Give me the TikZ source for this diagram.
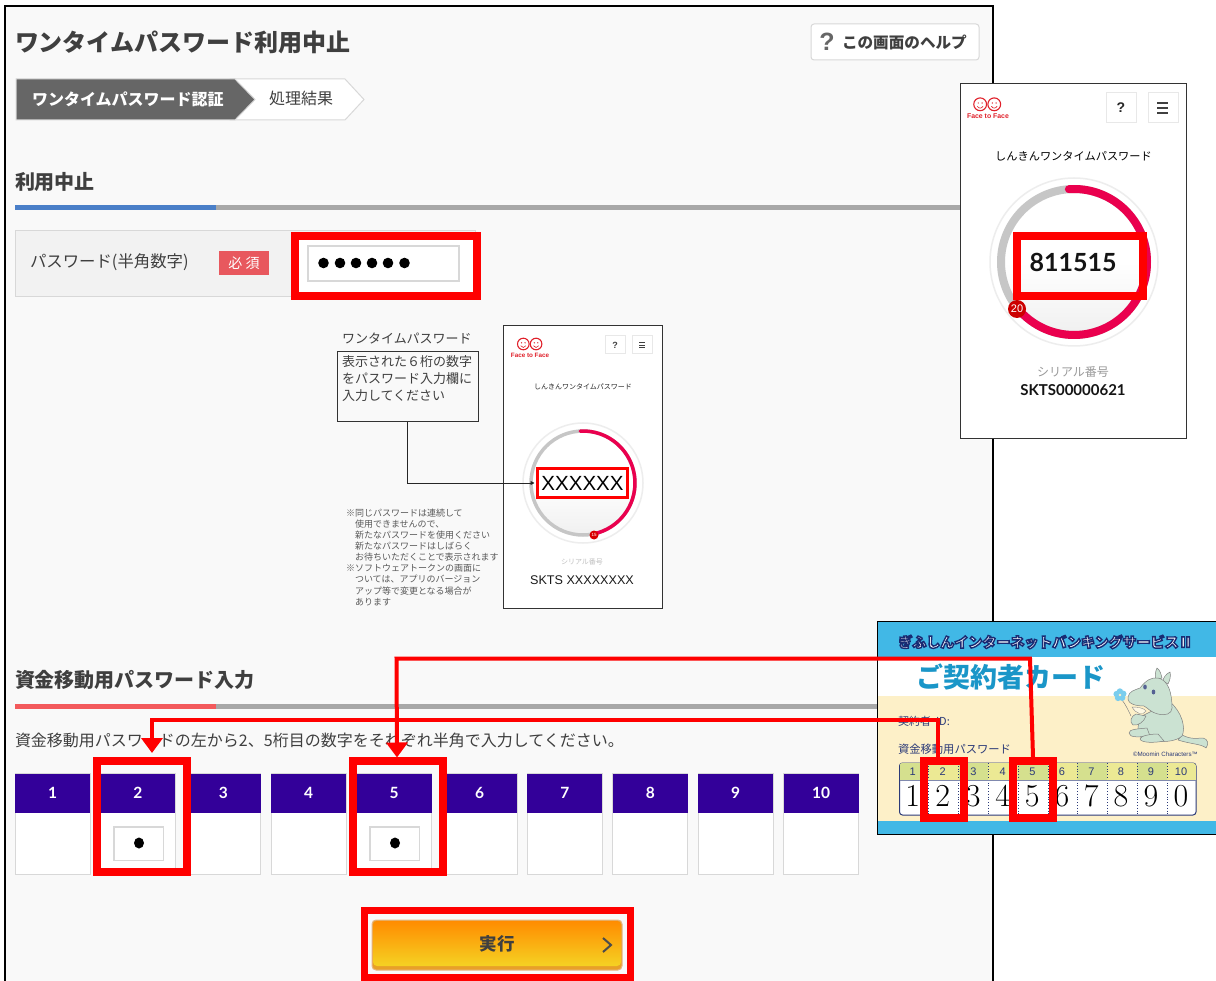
\documentclass[tikz,border=0pt]{standalone}
\usepackage{fontspec}
\usetikzlibrary{arrows.meta,fit,calc}
\newfontfamily\jp{Noto Sans CJK JP}
\newfontfamily\jpblack{Noto Sans CJK JP Black}
\newfontfamily\lib{Liberation Sans}
\newfontfamily\lato{Lato}
\def\fs#1{\fontsize{#1}{#1}\selectfont}
\definecolor{pagebg}{HTML}{F9F9F9}
\definecolor{rd}{HTML}{FF0000}
\definecolor{txt}{HTML}{3F3F3F}
\definecolor{edge}{HTML}{D8D8D8}
\definecolor{barg}{HTML}{A8A8A8}
\definecolor{pink}{HTML}{EA004E}
\definecolor{logored}{HTML}{E0202A}
\definecolor{ringg}{HTML}{C6C6C6}
\definecolor{navy}{HTML}{2B3A78}
\definecolor{cardb}{HTML}{41B8E6}
\definecolor{cream}{HTML}{FDF0C8}
\definecolor{purp}{HTML}{330099}
\definecolor{moom}{HTML}{CBE2D2}
\definecolor{hdra}{HTML}{ECE994}
\definecolor{hdrb}{HTML}{D5E08E}
\tikzset{
  t/.style={inner sep=0pt,outer sep=0pt,text=txt,anchor=west,font=\jp},
  c/.style={t,anchor=center},
  box/.style={inner sep=0pt,outer sep=0pt},
  redbox/.style={box,draw=rd,line width=8pt,line join=miter},
  redline/.style={draw=rd,line width=4pt},
  redarrow/.style={redline,-{Triangle[length=15pt,width=21pt]}},
  inputbox/.style={box,draw=edge,line width=1.6pt,fill=white},
  phonebtn/.style={box,draw=edge!60,line width=1pt,fill=white},
  phoneframe/.style={box,draw=black!80,line width=1pt,fill=white},
  moomin/.style={draw=black!50,line width=0.5pt,fill=moom,line join=round},
}
\newcommand{\logoface}[4]{%
  \begin{scope}[shift={(#1,#2)}]
    \foreach \s in {-1,1}{
      \draw[logored,line width=1.1pt] (\s*#3*1.1,0) circle[radius=#3 pt];
      \fill[logored] (\s*#3*1.1-#3*0.3,-#3*0.2) circle[radius=0.7pt] (\s*#3*1.1+#3*0.3,-#3*0.2) circle[radius=0.7pt];
      \draw[logored,line width=0.6pt] (\s*#3*1.1-#3*0.45,#3*0.3) .. controls (\s*#3*1.1-#3*0.2,#3*0.7) and (\s*#3*1.1+#3*0.2,#3*0.7) .. (\s*#3*1.1+#3*0.45,#3*0.3);
    }
  \end{scope}}
\begin{document}
\begin{tikzpicture}[x=1pt,y=-1pt]
\useasboundingbox (0,0) rectangle (1216,981);
\clip (0,0) rectangle (1216,981);
\fill[white] (0,0) rectangle (1216,981);
% page frame
\draw[black,line width=2pt,fill=pagebg] (5,6) rectangle (993,1000);

% header
\node[t,font=\jp\bfseries\fs{24}] (title) at (15,42) {ワンタイムパスワード利用中止};
\node[box,draw=edge,line width=1pt,fill=white,rounded corners=3pt,fit={(811,24)(979,60)}] (helpbtn) {};
\node[c,text=black!60,font=\lib\bfseries\fs{25}] (helpq) at (827,42) {?};
\node[t,font=\jp\bfseries\fs{15.6}] (helptxt) at (842,42) {この画面のヘルプ};

% steps
\draw[edge,line width=1pt,fill=white] (230,79) -- (345,79) -- (364,99.5) -- (345,120) -- (230,120) -- cycle;
\draw[edge,line width=1pt,fill=black!60] (16,79) -- (235,79) -- (255,99.5) -- (235,120) -- (16,120) -- cycle;
\node[t,text=white,font=\jp\bfseries\fs{16}] (step1) at (32,99) {ワンタイムパスワード認証};
\node[t,font=\jp\fs{16}] (step2) at (269,98.5) {処理結果};

% section 1
\node[t,font=\jp\bfseries\fs{20}] (sec1) at (15,182) {利用中止};
\fill[barg] (15,205) rectangle (960,210);
\fill[color={rgb,255:red,74;green,127;blue,200}] (15,205) rectangle (216,210);

% password row
\node[box,draw=edge,line width=1pt,fill=black!5,fit={(15,231)(475,297)}] (pwrow) {};
\fill[white] (291,232) rectangle (475,296);
\node[t,font=\jp\fs{16.4}] (pwlabel) at (30,262.5) {パスワード(半角数字)};
\node[box,fill={rgb,255:red,232;green,88;blue,94},fit={(219,251)(269,275)}] (badge) {};
\node[c,text=white,font=\jp\fs{14}] (badgetxt) at (badge.center) {必 須};
\node[inputbox,fit={(308,246)(459,281)}] (pwinput) {};
\foreach \i/\x in {1/323.5,2/340,3/356,4/372,5/388,6/404.5}
  \fill[black] (\x,263) circle[radius=5.3pt];
\node[redbox,fit={(295,236)(477,296)}] (pwred) {};

% explanation
\node[t,font=\jp\fs{13}] (otp) at (342,338) {ワンタイムパスワード};
\node[box,draw=black!80,line width=1pt,fit={(337,351.5)(478,422)}] (infobox) {};
\node[t,font=\jp\fs{13}] (info1) at (342,361.5) {表示された６桁の数字};
\node[t,font=\jp\fs{13}] (info2) at (342,379) {をパスワード入力欄に};
\node[t,font=\jp\fs{13}] (info3) at (342,396) {入力してください};
\foreach \n/\x/\y/\s in {a/346/513.5/※同じパスワードは連続して,b/355/524/使用できませんので、,c/355/535/新たなパスワードを使用ください,d/355/546/新たなパスワードはしばらく,e/355/557/お待ちいただくことで表示されます,f/346/568/※ソフトウェアトークンの画面に,g/355/579/ついては、アプリのバージョン,h/355/591/アップ等で変更となる場合が,i/355/602/あります}
  \node[t,text=black!65,font=\jp\fs{9}] (note\n) at (\x,\y) {\s};

% small phone
\node[phoneframe,fit={(503,326)(662,608)}] (phone1) {};
\logoface{529.7}{344}{5.8}{7}
\node[c,text=logored,font=\lib\bfseries\fs{6.3}] (logo1) at (530,355) {Face to Face};
\node[phonebtn,fit={(605,336)(625,354)}] (q1) {};
\node[c,text=black!75,font=\lib\bfseries\fs{9}] (q1t) at (q1.center) {?};
\node[phonebtn,fit={(632,336)(652,354)}] (m1) {};
\foreach \y in {342.5,345,347.5}
  \draw[black!75,line width=0.9pt] (639,\y) -- (645,\y);
\node[c,text=black!85,font=\jp\fs{7}] (ph1title) at (583,387) {しんきんワンタイムパスワード};
\draw[black!7,line width=1.5pt,fill=white] (583,483) circle[radius=60pt];
\shade[top color=white,bottom color=black!6,middle color=white] (583,483) circle[radius=52pt];
\draw[ringg,line width=3.5pt] (583,483) circle[radius=52pt];
\draw[pink,line width=3.5pt,line cap=round] (583,483) ++(93:52pt) arc[start angle=93,end angle=-78,radius=52pt];
\node[circle,box,fill=red!85!black,minimum size=9pt] (badge1) at (594,535) {};
\node[c,text=white,font=\lib\fs{4.5}] (badge1t) at (badge1.center) {15};
\node[box,draw=rd,line width=3pt,fill=white,fit={(537.5,468.5)(627.5,497.5)}] (xnode) {};
\node[c,text=black,font=\lib\fs{20.5}] (xtext) at (582.5,483) {XXXXXX};
\node[c,text=black!25,font=\jp\fs{7}] (ph1ser) at (582,562) {シリアル番号};
\node[c,text=black!90,font=\lib\fs{12.6}] (ph1num) at (582,580) {SKTS XXXXXXXX};
\draw[black!85,line width=0.9pt,-{Triangle[length=4pt,width=4pt]},shorten >=3pt] (infobox.south) |- (xnode.west);

% large phone
\node[phoneframe,fit={(960,84)(1186,439)}] (phone2) {};
\logoface{987.2}{104.3}{6.4}{7}
\node[c,text=logored,font=\lib\bfseries\fs{6.9}] (logo2) at (988,116) {Face to Face};
\node[phonebtn,fit={(1106,93)(1136,123)}] (q2) {};
\node[c,text=black!85,font=\lib\bfseries\fs{14}] (q2t) at (q2.center) {?};
\node[phonebtn,fit={(1148,93)(1178,123)}] (m2) {};
\foreach \y in {103,108,113}
  \draw[black!75,line width=1.4pt] (1157,\y) -- (1168,\y);
\node[c,text=black,font=\jp\fs{11.2}] (ph2title) at (1073.5,156) {しんきんワンタイムパスワード};
\draw[black!7,line width=1.5pt,fill=white] (1074,262) circle[radius=84pt];
\shade[top color=white,bottom color=black!6,middle color=white] (1074,262) circle[radius=73pt];
\draw[ringg,line width=8pt] (1074,262) circle[radius=73pt];
\draw[pink,line width=8pt,line cap=round] (1074,262) ++(94:73pt) arc[start angle=94,end angle=-140.5,radius=73pt];
\node[circle,box,fill=red!80!black,minimum size=18pt] (badge2) at (1017,309) {};
\node[c,text=white,font=\lib\fs{11}] (badge2t) at (badge2.center) {20};
\node[c,text=black!92,font=\lato\bfseries\fs{25}] (otpnum) at (1073,262) {811515};
\node[redbox,fit={(1017,236)(1143,296)}] (otpred) {};
\node[c,text=black!40,font=\jp\fs{12}] (ph2ser) at (1073,372) {シリアル番号};
\node[c,text=black!92,font=\lato\bfseries\fs{15}] (ph2num) at (1073,390.5) {SKTS00000621};

% section 2
\node[t,font=\jp\bfseries\fs{20}] (sec2) at (15,680) {資金移動用パスワード入力};
\fill[barg] (15,704) rectangle (877,709);
\fill[color={rgb,255:red,243;green,90;blue,92}] (15,704) rectangle (216,709);
\node[t,font=\jp\fs{16}] (instr) at (15,740) {資金移動用パスワードの左から2、5桁目の数字をそれぞれ半角で入力してください。};

% digit cells
\foreach \i in {1,...,10}{
  \pgfmathsetmacro{\x}{15+85.4*(\i-1)}
  \pgfmathsetmacro{\xb}{\x+75}
  \pgfmathsetmacro{\xc}{\x+37.5}
  \node[box,draw=edge,line width=1pt,fill=white,fit={(\x,773.5)(\xb,874)}] (cell\i) {};
  \node[box,fill=purp,fit={(\x,773.5)(\xb,813)}] (head\i) {};
  \node[c,text=white,font=\lato\bfseries\fs{15.5}] (num\i) at (\xc,793) {\i};
}
\node[inputbox,fit={(114,827)(163.5,860.5)}] (in2) {};
\fill[black] (139,843) ellipse[x radius=5pt,y radius=5.5pt];
\node[inputbox,fit={(370,827)(419.5,860.5)}] (in5) {};
\fill[black] (395,843) ellipse[x radius=5pt,y radius=5.5pt];
\node[redbox,fit={(97,761)(187,872)}] (box2) {};
\node[redbox,fit={(353,761)(443,872)}] (box5) {};

% execute button
\node[box,draw=edge!60!orange,line width=1pt,fill={rgb,255:red,232;green,160;blue,40},rounded corners=4pt,fit={(372,920)(622,970)}] (btnbase) {};
\node[box,top color={rgb,255:red,255;green,140;blue,0},bottom color={rgb,255:red,245;green,210;blue,35},rounded corners=4pt,fit={(373,921)(621,966)}] (btn) {};
\node[c,font=\jp\bfseries\fs{17.5}] (btntxt) at (497,944) {実行};
\draw[black!70,line width=2pt] (603,938) -- (611,945) -- (603,952);
\node[redbox,line width=7pt,fit={(364,910.5)(630,977.5)}] (btnred) {};

% contract card
\node[box,draw=black,line width=1pt,fill=white,fit={(877,621)(1230,834)}] (card) {};
\fill[cardb] (877.5,621.5) rectangle (1216,656.5);
\fill[cream] (877.5,696) rectangle (1216,821);
\fill[cardb] (877.5,821) rectangle (1216,833.5);
\node[c,text=white,font=\jpblack\fs{14}] (cardtitle) at (1045.5,642) {\special{pdf:code q 2 Tr 1.4 w 0.1 0.17 0.45 RG 1 1 1 rg}ぎふしんインターネットバンキングサービスⅡ\special{pdf:code Q}};
\node[c,text={rgb,255:red,26;green,150;blue,200},font=\jp\bfseries\fs{27}] (cardhead) at (1011,677) {ご契約者カード};
\node[t,text=navy,font=\jp\fs{11}] (cardid) at (898,721) {契約者\hspace{5pt}ID:};
\node[t,text=navy,font=\jp\fs{11.3}] (cardpw) at (898,749) {資金移動用パスワード};
% moomin figure
\draw[moomin] (1182,735) .. controls (1192,740) and (1198,738) .. (1203,738) .. controls (1208,739) and (1209,744) .. (1206,748) .. controls (1202,744) and (1190,744) .. (1178,740) -- cycle;
\draw[moomin] (1142,716) .. controls (1136,726) and (1136,738) .. (1146,740) .. controls (1160,743) and (1176,742) .. (1182,736) .. controls (1186,728) and (1182,712) .. (1170,702) -- cycle;
\draw[moomin] (1157,668) .. controls (1155,672) and (1155,676) .. (1156,680) -- (1162,678) .. controls (1161,674) and (1160,670) .. (1157,668) -- cycle;
\draw[moomin] (1170,672) .. controls (1166,674) and (1163,678) .. (1163,681) -- (1168,684) .. controls (1170,680) and (1171,676) .. (1170,672) -- cycle;
\draw[moomin] (1128,697) .. controls (1129,691) and (1135,690) .. (1140,688) .. controls (1146,680) and (1152,677) .. (1158,678) .. controls (1168,680) and (1172,692) .. (1172,708) .. controls (1172,714) and (1165,716) .. (1158,714) .. controls (1150,712) and (1148,708) .. (1144,706) .. controls (1136,706) and (1127,704) .. (1128,697) -- cycle;
\fill[cream!50!white,draw=black!45,line width=0.4pt] (1132,707) .. controls (1136,714) and (1143,716) .. (1146,711) .. controls (1144,708) and (1138,707) .. (1132,707) -- cycle;
\draw[moomin] (1136,714) .. controls (1131,716) and (1129,722) .. (1133,725) .. controls (1138,726) and (1144,722) .. (1146,716) -- cycle;
\draw[moomin] (1147,728) .. controls (1138,729) and (1129,729) .. (1129,733) .. controls (1129,738) and (1140,737) .. (1150,736) -- cycle;
\draw[moomin] (1158,734) .. controls (1150,734) and (1140,736) .. (1140,739) .. controls (1141,743) and (1155,743) .. (1164,741) -- cycle;
\fill[navy!80] (1145,687) ellipse[x radius=1.8pt,y radius=2.5pt] (1153.5,692) ellipse[x radius=1.8pt,y radius=2.5pt];
\draw[black!50,line width=0.5pt] (1122,700) .. controls (1126,705) and (1128,710) .. (1131,716);
\foreach \a in {0,72,144,216,288}
  \fill[cardb!70!white] (1120,695) ++(\a+20:3.5pt) circle[radius=3.2pt];
\fill[cream] (1120,695) circle[radius=1.4pt];
\node[t,text=navy,font=\lib\fs{6.2}] (moomincr) at (1133,754) {©Moomin Characters™};
% number table
\node[box,draw=navy,line width=1pt,fill=white,rounded corners=3pt,fit={(899.5,763)(1196,815)}] (tbl) {};
\begin{scope}
  \clip[rounded corners=3pt] (899.5,763) rectangle (1196,815);
  \fill[hdra] (899.5,763) rectangle (1196,780);
  \foreach \a/\b in {899.5/928.3,958.5/988,1018/1048,1077/1107,1137/1167}
    \fill[hdrb] (\a,763) rectangle (\b,780);
\end{scope}
\foreach \x in {928.3,958.5,988,1018,1048,1077,1107,1137,1167}
  \draw[navy,line width=0.8pt,dotted] (\x,763) -- (\x,815);
\draw[navy!60,line width=0.5pt] (899.5,780) -- (1196,780);
\foreach \n/\d/\x in {1/1/912.7,2/2/942.7,3/3/973.3,4/4/1002.7,5/5/1032.3,6/6/1062,7/7/1091.3,8/8/1121,9/9/1151,10/0/1181}{
  \node[c,text=navy,font=\lib\fs{11}] (hd\n) at (\x,771.5) {\n};
  \node[c,text=black,font=\fs{32}] (dg\n) at (\x,796) {\d};
}
\node[redbox,line width=7.5pt,fit={(924,761)(964,818)}] (card2) {};
\node[redbox,line width=7.5pt,fit={(1013,761)(1053,818)}] (card5) {};

% red connectors
\coordinate (a1) at (1033,757);
\coordinate (a2) at (1030,658.5);
\coordinate (a3) at (396.5,658.5);
\coordinate (a4) at (397,757.5);
\coordinate (b1) at (938,757);
\coordinate (b2) at (938,719.5);
\coordinate (b3) at (152,719.5);
\coordinate (b4) at (152,753);
\draw[redarrow] (a1) -- (a2) -- (a3) -- (a4);
\draw[redarrow] (b1) -- (b2) -- (b3) -- (b4);
\end{tikzpicture}
\end{document}
